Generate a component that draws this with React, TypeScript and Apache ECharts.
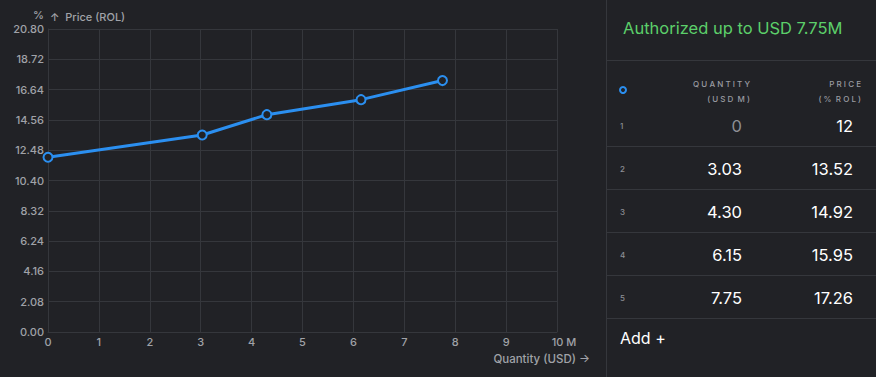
import React, { useEffect, useRef } from "react";
import * as echarts from "echarts";

const quantities = [0, 3.03, 4.3, 6.15, 7.75];
const prices = [12, 13.52, 14.92, 15.95, 17.26];
const quantityLabels = ["0", "3.03", "4.30", "6.15", "7.75"];
const priceLabels = ["12", "13.52", "14.92", "15.95", "17.26"];
const title = "Authorized up to USD 7.75M";

const BG = "#212226";
const LINE = "#35373c";
const BLUE = "#2b8ff0";
const FONT = "Inter";

export default function App() {
  const ref = useRef<HTMLDivElement>(null);
  useEffect(() => {
    const chart = echarts.init(ref.current!, null, { renderer: "svg" });
    const rowTop = 104;
    const rowH = 43;
    const graphic: any[] = [
      { type: "line", shape: { x1: 606.5, y1: 0, x2: 606.5, y2: 377 }, style: { stroke: LINE, lineWidth: 1 } },
      { type: "line", shape: { x1: 607, y1: 60.5, x2: 876, y2: 60.5 }, style: { stroke: LINE, lineWidth: 1 } },
      { type: "text", x: 623, y: 28, style: { text: title, fill: "#5ccf6a", font: `400 16.5px ${FONT}`, textVerticalAlign: "middle" } },
      { type: "circle", shape: { cx: 623, cy: 90, r: 3 }, style: { fill: "none", stroke: BLUE, lineWidth: 2 } },
      { type: "text", x: 750, y: 84, style: { text: "Q U A N T I T Y", fill: "#9a9ca2", font: `500 8px ${FONT}`, textAlign: "right", textVerticalAlign: "middle" } },
      { type: "text", x: 750, y: 99, style: { text: "( U S D  M )", fill: "#9a9ca2", font: `500 8px ${FONT}`, textAlign: "right", textVerticalAlign: "middle" } },
      { type: "text", x: 861, y: 84, style: { text: "P R I C E", fill: "#9a9ca2", font: `500 8px ${FONT}`, textAlign: "right", textVerticalAlign: "middle" } },
      { type: "text", x: 861, y: 99, style: { text: "( %  R O L )", fill: "#9a9ca2", font: `500 8px ${FONT}`, textAlign: "right", textVerticalAlign: "middle" } },
      { type: "text", x: 620, y: 338, style: { text: "Add +", fill: "#ffffff", font: `400 16px ${FONT}`, textVerticalAlign: "middle" } },
    ];
    quantities.forEach((_, i) => {
      const cy = rowTop + rowH * i + 22;
      graphic.push(
        { type: "line", shape: { x1: 607, y1: rowTop + rowH * (i + 1) - 0.5, x2: 876, y2: rowTop + rowH * (i + 1) - 0.5 }, style: { stroke: LINE, lineWidth: 1 } },
        { type: "text", x: 620, y: cy, style: { text: String(i + 1), fill: "#8d8f95", font: `500 8px ${FONT}`, textVerticalAlign: "middle" } },
        { type: "text", x: 742, y: cy, style: { text: quantityLabels[i], fill: i === 0 ? "#8d8f95" : "#ffffff", font: `400 16.5px ${FONT}`, textAlign: "right", textVerticalAlign: "middle" } },
        { type: "text", x: 853, y: cy, style: { text: priceLabels[i], fill: "#ffffff", font: `400 16.5px ${FONT}`, textAlign: "right", textVerticalAlign: "middle" } }
      );
    });
    graphic.push(
      { type: "text", x: 44, y: 15, style: { text: "%", fill: "#a0a2a8", font: `500 11px ${FONT}`, textAlign: "right", textVerticalAlign: "middle" } },
      { type: "text", x: 50, y: 17, style: { text: "↑  Price (ROL)", fill: "#a0a2a8", font: `500 11px ${FONT}`, textVerticalAlign: "middle" } },
      { type: "text", x: 590, y: 359, style: { text: "Quantity (USD) →", fill: "#a0a2a8", font: `500 11.5px ${FONT}`, textAlign: "right", textVerticalAlign: "middle" } }
    );
    chart.setOption({
      animation: false,
      backgroundColor: BG,
      grid: { left: 48, right: 319, top: 29, bottom: 45 },
      xAxis: {
        type: "value", min: 0, max: 10, interval: 1,
        axisLine: { show: true, lineStyle: { color: LINE } },
        axisTick: { show: false },
        splitLine: { show: true, lineStyle: { color: LINE } },
        axisLabel: {
          color: "#a0a2a8", fontFamily: FONT, fontSize: 11, fontWeight: 500, margin: 4,
          formatter: (v: number) => (v === 10 ? "{pad|}10 M" : String(v)),
          rich: { pad: { width: 14 } },
        },
      },
      yAxis: {
        type: "value", min: 0, max: 20.8, interval: 2.08,
        axisLine: { show: true, lineStyle: { color: LINE } },
        axisTick: { show: false },
        splitLine: { show: true, lineStyle: { color: LINE } },
        axisLabel: { color: "#a0a2a8", fontFamily: FONT, fontSize: 11, fontWeight: 500, margin: 4, formatter: (v: number) => v.toFixed(2) },
      },
      series: [{
        type: "line",
        data: quantities.map((q, i) => [q, prices[i]]),
        lineStyle: { color: BLUE, width: 3 },
        itemStyle: { color: BG, borderColor: BLUE, borderWidth: 2 },
        symbol: "circle", symbolSize: 9,
      }],
      graphic,
    });
    return () => chart.dispose();
  }, []);
  return <div ref={ref} style={{ width: 876, height: 377, position: "absolute", left: 0, top: 0 }} />;
}
